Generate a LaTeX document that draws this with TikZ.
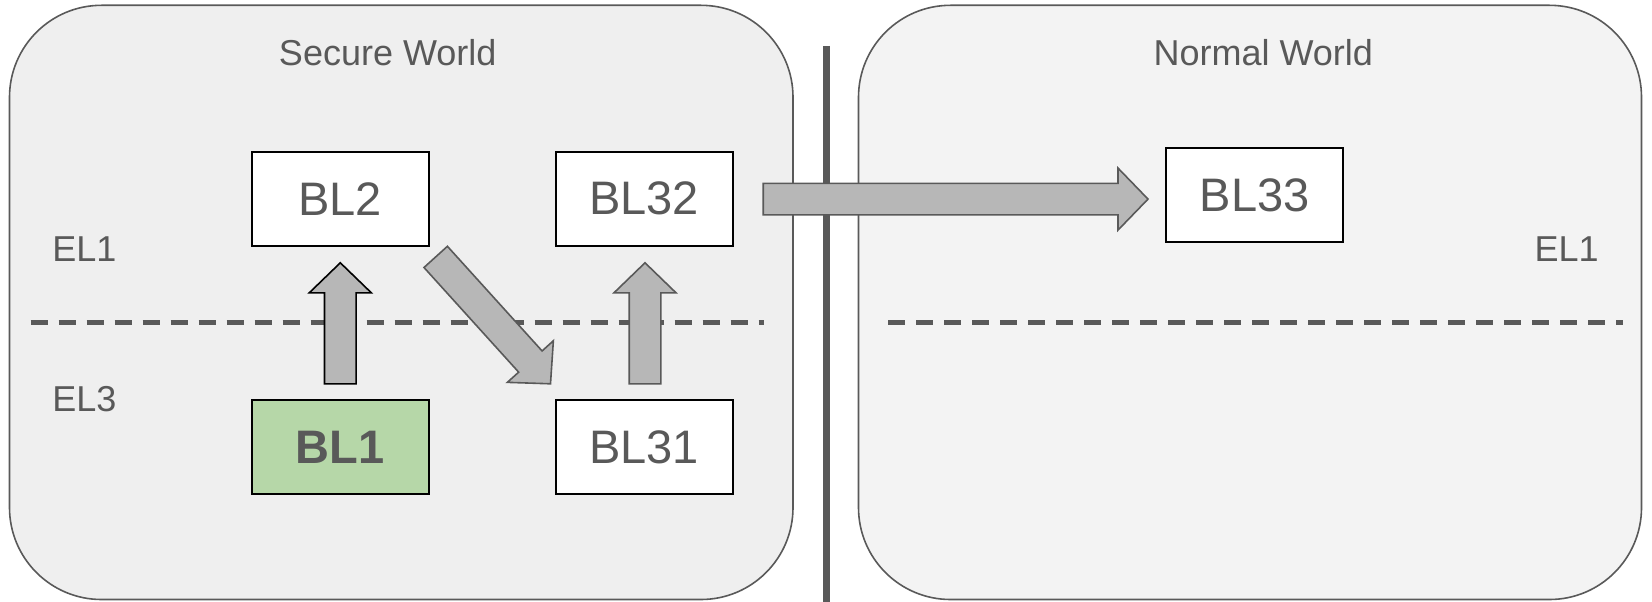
\documentclass[tikz,border=0pt]{standalone}
\usepackage{fontspec}
\setmainfont{Liberation Sans}
\usetikzlibrary{calc}

\definecolor{inkgray}{HTML}{595959}
\definecolor{securefill}{HTML}{EFEFEF}
\definecolor{normalfill}{HTML}{F3F3F3}
\definecolor{arrowfill}{HTML}{B7B7B7}
\definecolor{bootgreen}{HTML}{B6D7A8}

% block arrow from #2 (tail centre) to #3 (tip), style #1
\newcommand{\blockarrow}[3][]{%
  \coordinate (ba-c) at ($(#3)!30pt!(#2)$);
  \draw[arrowbody,#1]
    ($(#2)!15.8pt!90:(#3)$) -- ($(ba-c)!15.8pt!90:(#3)$) --
    ($(ba-c)!31pt!90:(#3)$) -- (#3) --
    ($(ba-c)!31pt!-90:(#3)$) -- ($(ba-c)!15.8pt!-90:(#3)$) --
    ($(#2)!15.8pt!-90:(#3)$) -- cycle;
}

\tikzset{
  world/.style={draw=inkgray, line width=1.6pt, rounded corners=92pt},
  title/.style={text=inkgray, font=\fontsize{36}{43}\selectfont},
  level/.style={text=inkgray, font=\fontsize{36}{43}\selectfont},
  stage/.style={draw=black, line width=2pt, fill=white, minimum width=177pt,
    minimum height=94pt, inner sep=0pt, text=inkgray,
    font=\fontsize{47}{56}\selectfont},
  divider/.style={draw=inkgray, line width=4.3pt, dash pattern=on 17pt off 11pt},
  arrowbody/.style={fill=arrowfill, draw=inkgray, line width=1.6pt, line join=miter},
}

\begin{document}
\begin{tikzpicture}[x=1pt, y=-1pt]
  \useasboundingbox (0,0) rectangle (1652,602);

  % the two worlds
  \draw[world, fill=securefill] (9.5,5.3) rectangle (793,599.5);
  \draw[world, fill=normalfill] (858.5,5.3) rectangle (1641.5,599.5);

  % separator between the worlds
  \draw[inkgray, line width=7pt] (826,46) -- (826,602);

  % exception level boundaries
  \draw[divider] (30.5,322.4) -- (764,322.4);
  \draw[divider] (888,322.4) -- (1622.5,322.4);

  % titles and level labels
  \node[title] (secure) at (387.7,53) {Secure World};
  \node[title] (normal) at (1263.3,53) {Normal World};
  \node[level] (el1s) at (84.3,249) {EL1};
  \node[level] (el3s) at (84.3,399) {EL3};
  \node[level] (el1n) at (1566.7,249) {EL1};

  % boot stages
  \node[stage] (bl2)  at (340.3,198.6) {BL2};
  \node[stage] (bl32) at (644.2,198.6) {BL32};
  \node[stage, fill=bootgreen, font=\fontsize{47}{56}\selectfont\bfseries] (bl1) at (340.3,447.2) {BL1};
  \node[stage] (bl31) at (644.2,447.2) {BL31};
  \node[stage] (bl33) at (1254.8,195.4) {BL33};

  % transitions
  \coordinate (t1a) at ($(bl1.north)+(0,-15.4)$);
  \coordinate (t1b) at ($(bl2.south)+(0,16.2)$);
  \blockarrow[draw=black]{t1a}{t1b}

  \coordinate (t2a) at ($(bl2.south east)+(5.9,10.3)$);
  \coordinate (t2b) at ($(bl31.north west)+(-4.2,-15.4)$);
  \blockarrow{t2a}{t2b}

  \coordinate (t3a) at ($(bl31.north)+(0.8,-15.4)$);
  \coordinate (t3b) at ($(bl32.south)+(0.8,16.2)$);
  \blockarrow{t3a}{t3b}

  \coordinate (t4a) at ($(bl32.east)+(29.5,0.5)$);
  \coordinate (t4b) at ($(t4a -| bl33.west)+(-17.3,0)$);
  \blockarrow{t4a}{t4b}
\end{tikzpicture}
\end{document}
